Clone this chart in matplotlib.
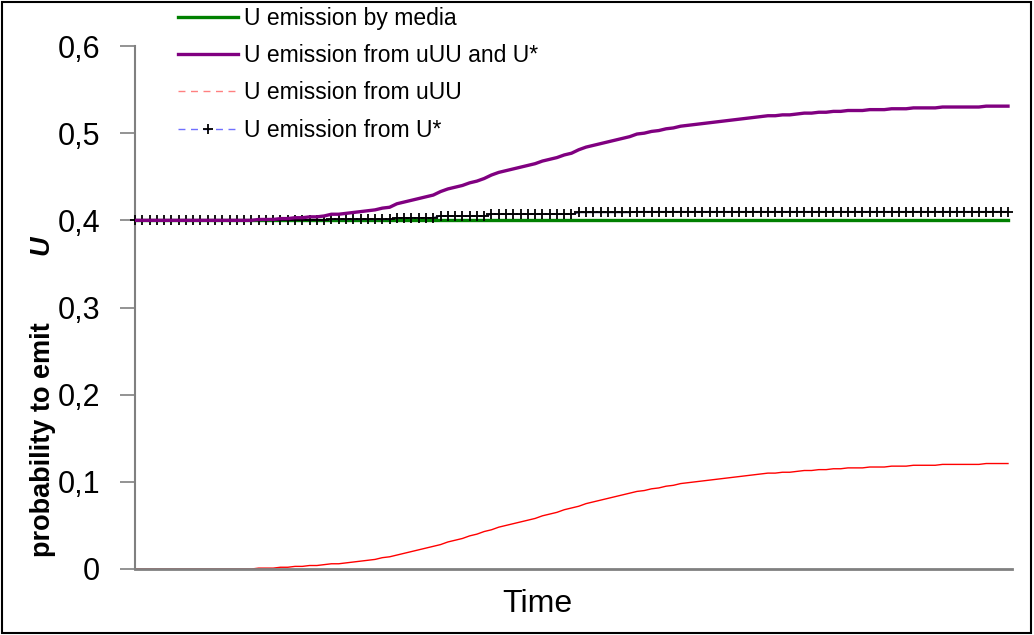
"""
U emission probability over time
"""
import matplotlib.pyplot as plt
from matplotlib.lines import Line2D
from matplotlib.patches import Rectangle
import numpy as np

plt.rcParams["font.family"] = ["Liberation Sans", "DejaVu Sans"]

# data (121 time steps)
u_uuu = [0.000] * 17 + [
    0.001, 0.001, 0.001, 0.002, 0.002, 0.003,
    0.003, 0.004, 0.004, 0.005, 0.006, 0.006, 0.007,
    0.008, 0.009, 0.010, 0.011, 0.013, 0.014, 0.016,
    0.018, 0.020, 0.022, 0.024, 0.026, 0.028, 0.031,
    0.033, 0.035, 0.038, 0.040, 0.043, 0.045, 0.048,
    0.050, 0.052, 0.054, 0.056, 0.058, 0.061, 0.063,
    0.065, 0.068, 0.070, 0.072, 0.075, 0.077, 0.079,
    0.081, 0.083, 0.085, 0.087, 0.089, 0.090, 0.092,
    0.093, 0.095, 0.096, 0.098, 0.099, 0.100, 0.101,
    0.102, 0.103, 0.104, 0.105, 0.106, 0.107, 0.108,
    0.109, 0.110, 0.110, 0.111, 0.111, 0.112, 0.113,
    0.113, 0.114, 0.114, 0.115, 0.115, 0.116, 0.116,
    0.116, 0.117, 0.117, 0.117, 0.118, 0.118, 0.118,
    0.119, 0.119, 0.119, 0.119, 0.120, 0.120, 0.120,
    0.120, 0.120, 0.120, 0.121, 0.121, 0.121, 0.121]
u_star = ([0.400] * 27 + [0.401] * 9 + [0.403] * 6 + [0.405] * 7
          + [0.407] * 12 + [0.409] * 8 + [0.410] * 52)
u_both = [0.400] * 17 + [
    0.401, 0.401, 0.401, 0.402, 0.402, 0.403,
    0.403, 0.404, 0.404, 0.405, 0.407, 0.407, 0.408,
    0.409, 0.410, 0.411, 0.412, 0.414, 0.415, 0.419,
    0.421, 0.423, 0.425, 0.427, 0.429, 0.433, 0.436,
    0.438, 0.440, 0.443, 0.445, 0.448, 0.452, 0.455,
    0.457, 0.459, 0.461, 0.463, 0.465, 0.468, 0.470,
    0.472, 0.475, 0.477, 0.481, 0.484, 0.486, 0.488,
    0.490, 0.492, 0.494, 0.496, 0.499, 0.500, 0.502,
    0.503, 0.505, 0.506, 0.508, 0.509, 0.510, 0.511,
    0.512, 0.513, 0.514, 0.515, 0.516, 0.517, 0.518,
    0.519, 0.520, 0.520, 0.521, 0.521, 0.522, 0.523,
    0.523, 0.524, 0.524, 0.525, 0.525, 0.526, 0.526,
    0.526, 0.527, 0.527, 0.527, 0.528, 0.528, 0.528,
    0.529, 0.529, 0.529, 0.529, 0.530, 0.530, 0.530,
    0.530, 0.530, 0.530, 0.531, 0.531, 0.531, 0.531]
u_media = [0.400] * 121
labels = ["U emission by media", "U emission from uUU and U*",
          "U emission from uUU", "U emission from U*"]
yticks = [0, 0.1, 0.2, 0.3, 0.4, 0.5, 0.6]
t = np.arange(len(u_media))

fig = plt.figure(figsize=(10.34, 6.35), dpi=100)
ax = fig.add_axes([135/1034, 66/635, 877/1034, 523/635])

ax.plot(t, u_uuu, color="#ff0000", lw=1.0, zorder=2)
ax.plot(t, u_media, color="#008000", lw=2.4, zorder=3)
ax.plot(t, u_star, color="#1a1a60", lw=1.0, marker="+", ms=7, mew=1.3,
        mec="black", zorder=4, clip_on=False)
ax.plot(t, u_both, color="#800080", lw=2.4, zorder=5)

ax.set_xlim(0, 120.55)
ax.set_ylim(0, 0.6)
ax.set_yticks(yticks)
ax.set_yticklabels(["0" if v == 0 else ("%.1f" % v).replace(".", ",") for v in yticks])
ax.set_xticks([])
ax.tick_params(axis="y", length=11, width=1.2, color="#808080", pad=14, labelsize=22)
for s in ["top", "right"]:
    ax.spines[s].set_visible(False)
ax.spines["left"].set_color("#808080")
ax.spines["left"].set_linewidth(1.5)
ax.spines["bottom"].set_color("#808080")
ax.spines["bottom"].set_linewidth(2)

# legend proxies
handles = [Line2D([], [], color="#008000", lw=2.4),
           Line2D([], [], color="#800080", lw=2.4),
           Line2D([], [], color="#ff8080", lw=1.0, ls=(0, (5, 4))),
           Line2D([], [], color="#7070ff", lw=1.0, ls=(0, (5, 4)), marker="+",
                  ms=7, mew=1.3, mec="black", markevery=[1])]
fig.legend(handles, labels, loc="upper left", bbox_to_anchor=(178/1034, 1 - 7/635),
           frameon=False, fontsize=16.5, borderpad=0, borderaxespad=0,
           handlelength=2.6, handletextpad=0.3, labelspacing=0.62)

fig.text(537/1034, 1 - 604/635, "Time", ha="center", va="center", fontsize=23)
fig.text(43/1034, 1 - 440/635, "probability to emit", rotation=90, ha="center",
         va="center", fontsize=19.5, fontweight="bold")
fig.text(41/1034, 1 - 245/635, "U", rotation=90, ha="center", va="center",
         fontsize=19.5, fontweight="bold", style="italic")

fig.patches.append(Rectangle((2/1034, 2/635), 1029/1034, 631/635, transform=fig.transFigure,
                             fill=False, edgecolor="black", lw=1.5))

plt.savefig("out.png", dpi=100)
